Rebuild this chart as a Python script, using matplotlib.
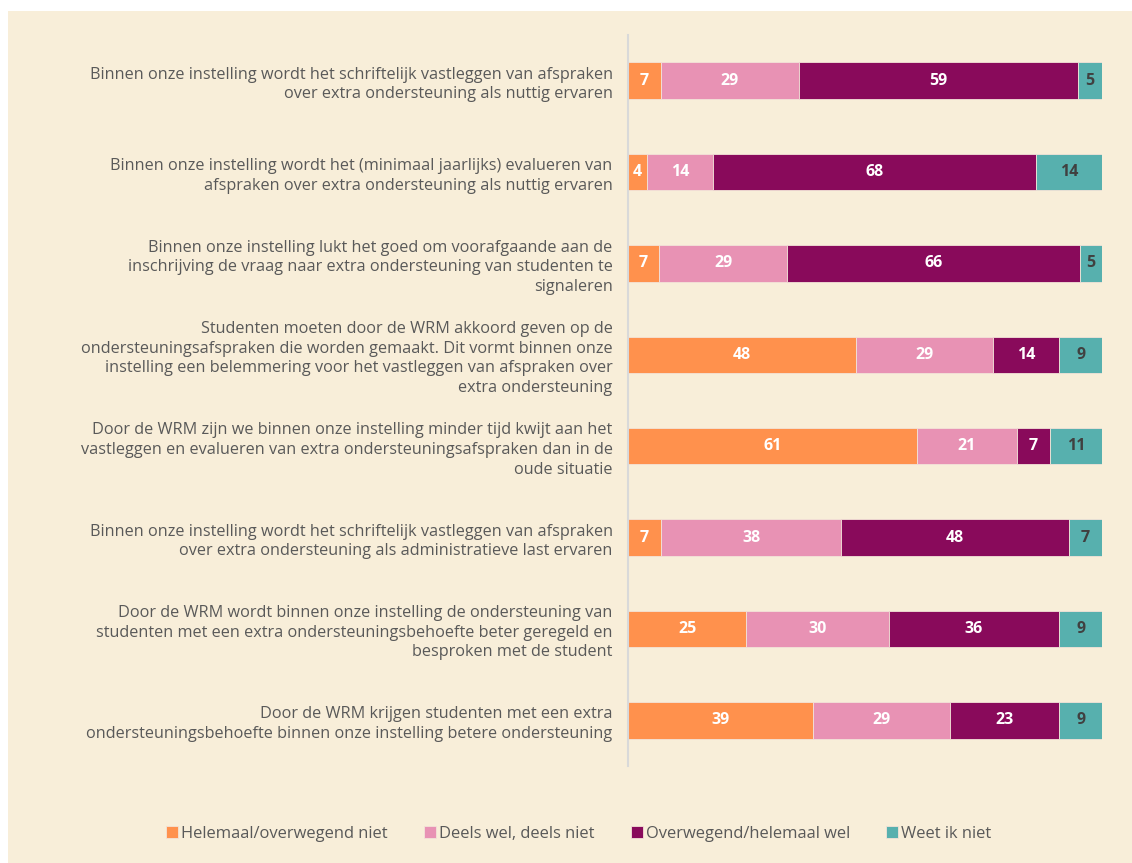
import numpy as np
import matplotlib.pyplot as plt

statements = [
    "Binnen onze instelling wordt het schriftelijk vastleggen van afspraken\nover extra ondersteuning als nuttig ervaren",
    "Binnen onze instelling wordt het (minimaal jaarlijks) evalueren van\nafspraken over extra ondersteuning als nuttig ervaren",
    "Binnen onze instelling lukt het goed om voorafgaande aan de\ninschrijving de vraag naar extra ondersteuning van studenten te\nsignaleren",
    "Studenten moeten door de WRM akkoord geven op de\nondersteuningsafspraken die worden gemaakt. Dit vormt binnen onze\ninstelling een belemmering voor het vastleggen van afspraken over\nextra ondersteuning",
    "Door de WRM zijn we binnen onze instelling minder tijd kwijt aan het\nvastleggen en evalueren van extra ondersteuningsafspraken dan in de\noude situatie",
    "Binnen onze instelling wordt het schriftelijk vastleggen van afspraken\nover extra ondersteuning als administratieve last ervaren",
    "Door de WRM wordt binnen onze instelling de ondersteuning van\nstudenten met een extra ondersteuningsbehoefte beter geregeld en\nbesproken met de student",
    "Door de WRM krijgen studenten met een extra\nondersteuningsbehoefte binnen onze instelling betere ondersteuning",
]

categories = ["Helemaal/overwegend niet", "Deels wel, deels niet",
              "Overwegend/helemaal wel", "Weet ik niet"]
niet = [7, 4, 7, 48, 61, 7, 25, 39]
deels = [29, 14, 29, 29, 21, 38, 30, 29]
wel = [59, 68, 66, 14, 7, 48, 36, 23]
weet_niet = [5, 14, 5, 9, 11, 7, 9, 9]

colors = ["#FF914D", "#E892B4", "#890A5B", "#57B0AE"]
label_colors = ["white", "white", "white", "#404040"]
bg = "#F8EED9"

values = np.array([niet, deels, wel, weet_niet], dtype=float)
shares = values / values.sum(axis=0)  # 100% stacked

fig = plt.figure(figsize=(11.32, 8.63), dpi=100)
fig.patch.set_facecolor("white")
fig.patches.append(plt.Rectangle((8 / 1132, 0), 1, 1 - 11 / 863,
                                 transform=fig.transFigure,
                                 facecolor=bg, edgecolor="none", zorder=-10))

ax = fig.add_axes([628 / 1132, (863 - 766) / 863, (1102 - 628) / 1132, (766 - 35) / 863])
ax.set_facecolor("none")
ax.set_zorder(2)

y = np.arange(len(statements))
left = np.zeros(len(statements))
for i, cat in enumerate(categories):
    bars = ax.barh(y, shares[i], left=left, height=0.4, color=colors[i],
                   edgecolor="#F3E3D8", linewidth=0.6, label=cat)
    for b, v in zip(bars, values[i]):
        ax.text(b.get_x() + b.get_width() / 2, b.get_y() + b.get_height() / 2,
                f"{v:.0f}", ha="center", va="center", fontsize=11.5,
                fontweight="bold", color=label_colors[i], family="Open Sans")
    left += shares[i]

ax.set_xlim(0, 1)
ax.set_ylim(len(statements) - 0.5, -0.5)
ax.set_xticks([])
ax.set_yticks(y)
ax.set_yticklabels(statements, fontsize=11.7, color="#595959", family="Open Sans",
                   linespacing=1.3)
ax.tick_params(axis="y", length=0, pad=11)
for lbl in ax.get_yticklabels():
    lbl.set_multialignment("right")
for s in ["top", "right", "bottom"]:
    ax.spines[s].set_visible(False)
ax.spines["left"].set_color("#D9D9D9")
ax.spines["left"].set_linewidth(1.5)

fig.legend(loc="center", bbox_to_anchor=(579 / 1132, 1 - 834 / 863), ncol=4,
           frameon=False, handlelength=0.7, handleheight=0.7, handletextpad=0.2,
           columnspacing=2.2,
           prop={"family": "Open Sans", "size": 11.9},
           labelcolor="#595959")

fig.savefig("out.png", dpi=100, facecolor=fig.get_facecolor())
